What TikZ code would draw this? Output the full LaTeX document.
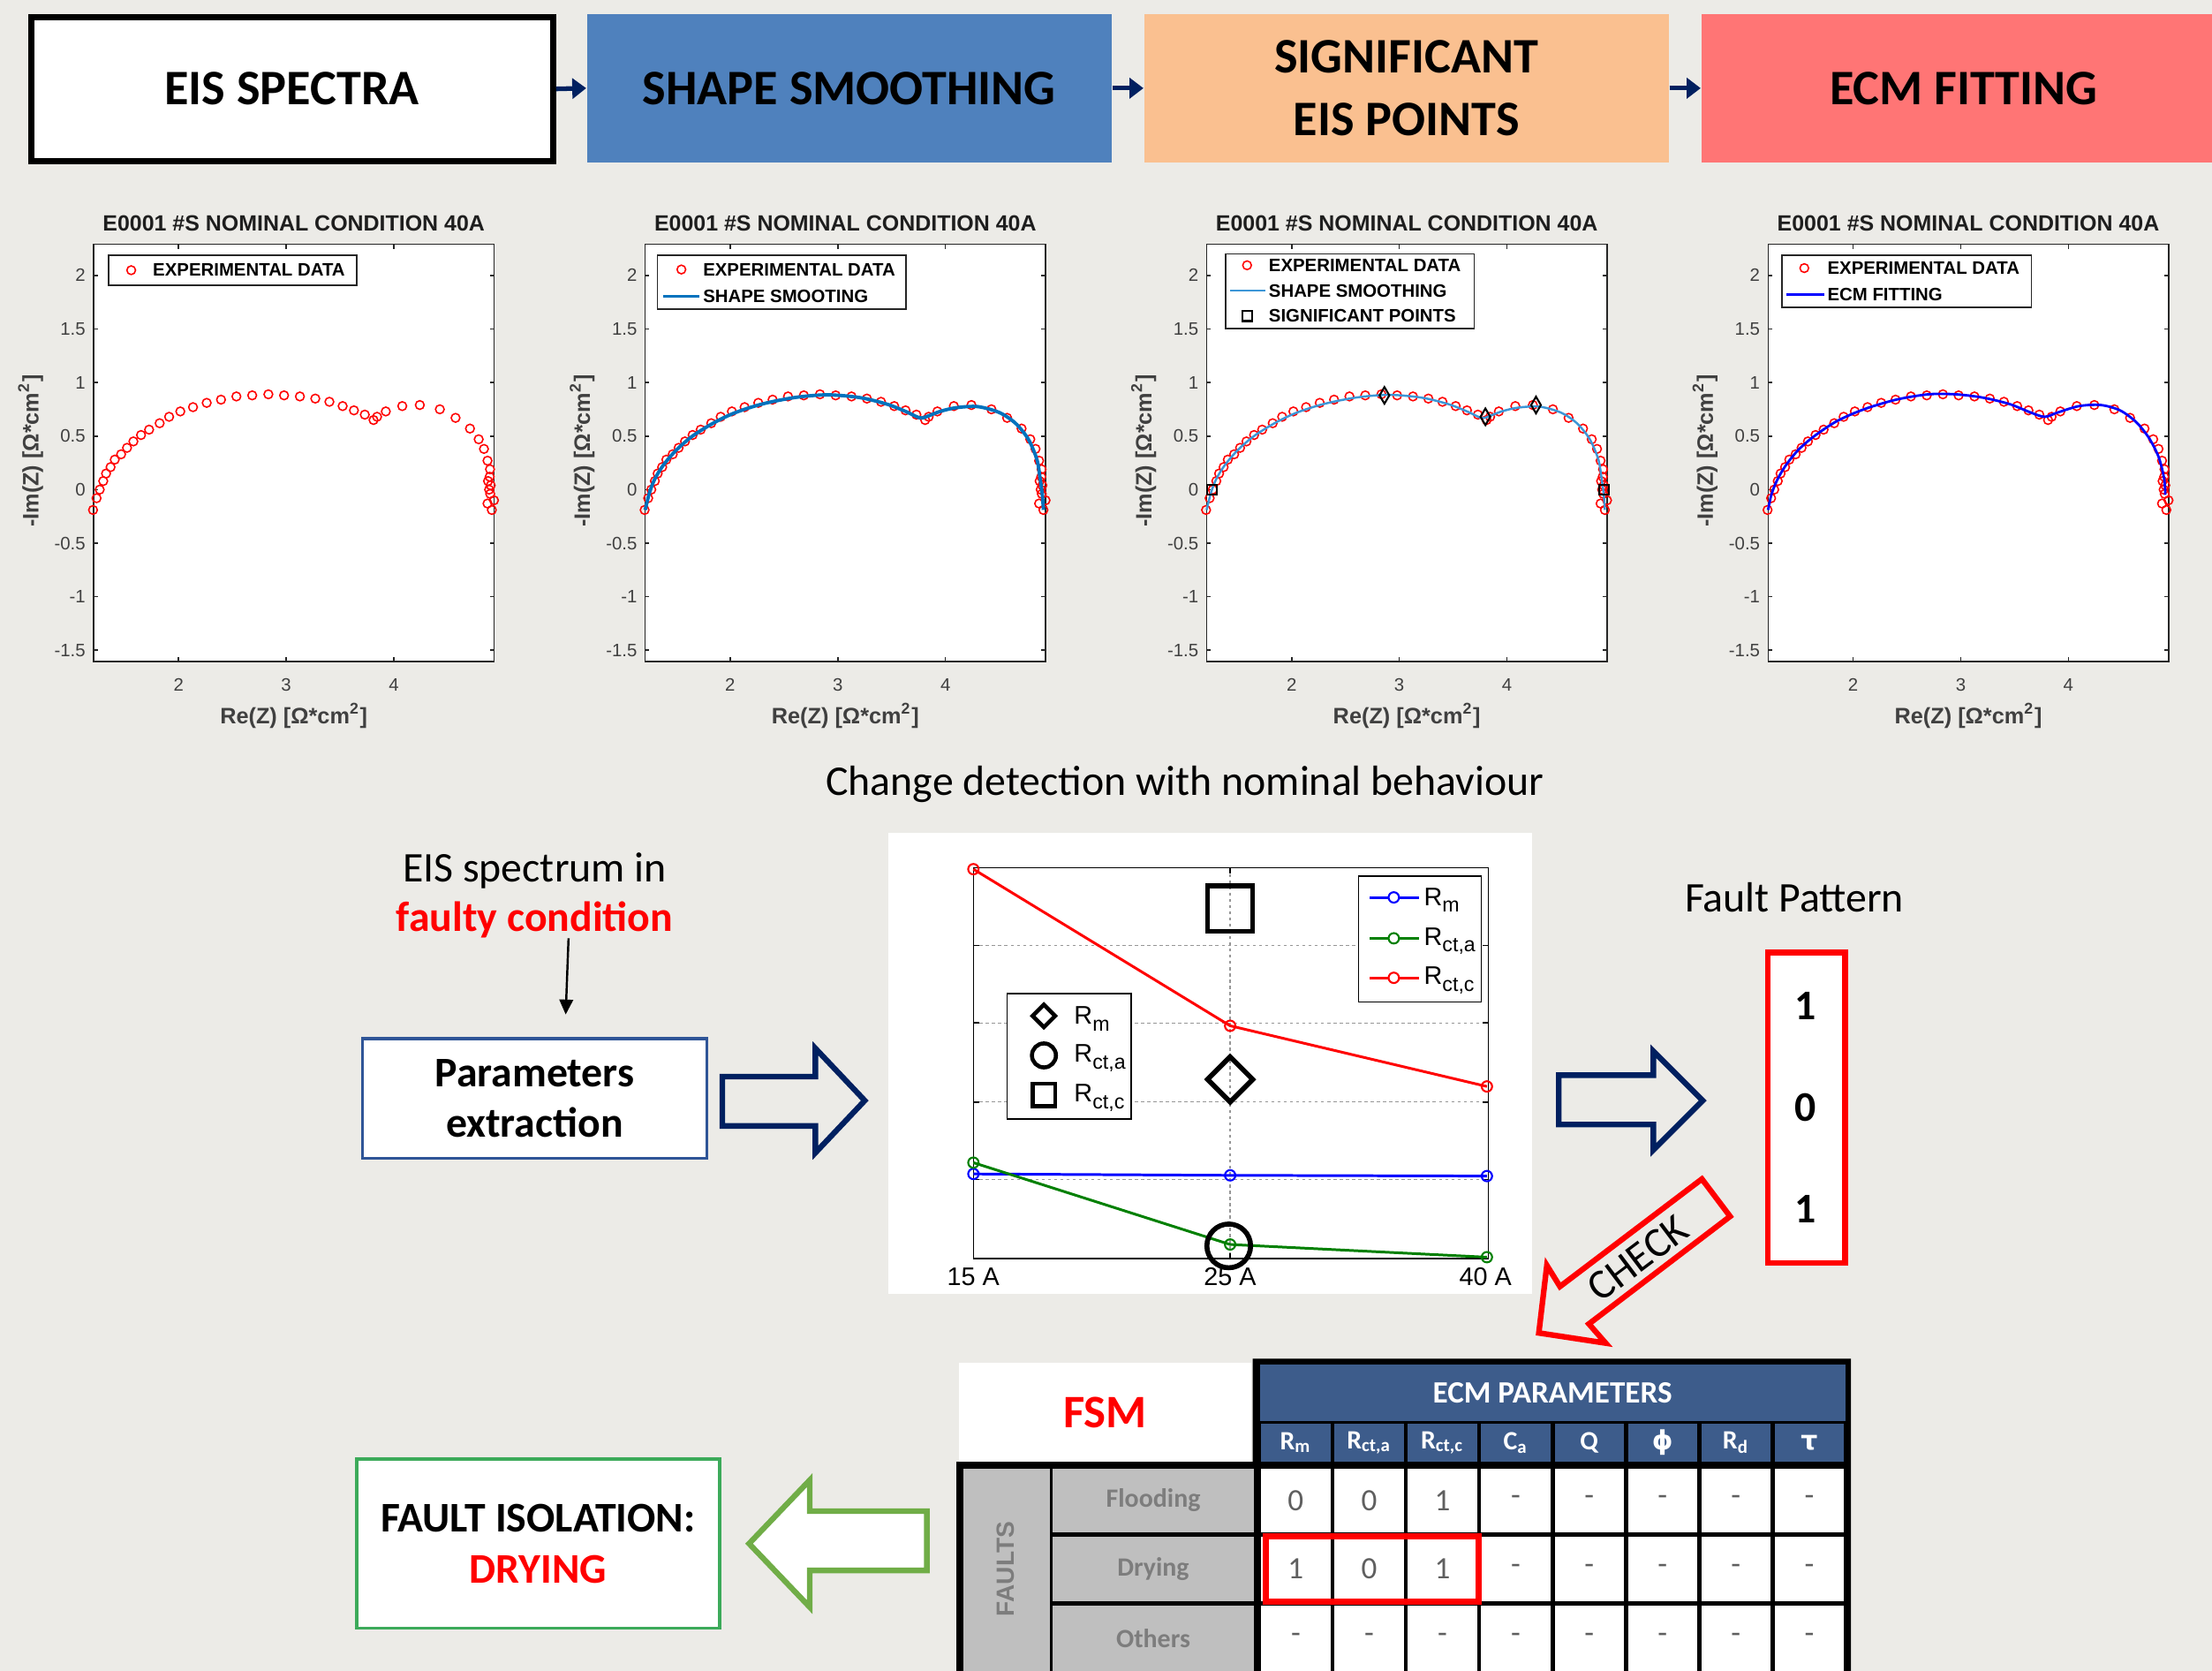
\documentclass[tikz,border=0pt]{standalone}
\usepackage{fontspec}
\setmainfont{Carlito}
\newfontfamily\plotfont{Liberation Sans}
\newfontfamily\greekfont{DejaVu Sans}
\usetikzlibrary{arrows.meta,shapes.geometric}

\definecolor{bgc}{RGB}{236,235,231}
\definecolor{navy}{RGB}{0,32,96}
\definecolor{smoothblue}{RGB}{79,129,189}
\definecolor{peach}{RGB}{250,192,144}
\definecolor{salmon}{RGB}{255,117,117}
\definecolor{mlblue}{RGB}{0,114,189}
\definecolor{lightline}{RGB}{60,150,215}
\definecolor{ticklab}{RGB}{64,64,64}
\definecolor{titlegray}{RGB}{30,30,30}
\definecolor{hdrblue}{RGB}{61,92,139}
\definecolor{cellgray}{RGB}{191,191,191}
\definecolor{txtgray}{RGB}{125,125,125}
\definecolor{numgray}{RGB}{95,95,95}
\definecolor{pebord}{RGB}{47,85,151}
\definecolor{fibord}{RGB}{60,170,90}
\definecolor{arrgreen}{RGB}{112,173,71}
\definecolor{gridgray}{RGB}{150,150,150}
\definecolor{mgreen}{RGB}{0,128,0}

% one drawing unit
\newlength\pu
\setlength\pu{0.0159758cm}

\newcommand\Rs[1]{R\textsubscript{#1}}
\newcommand\Rc[1]{R\raisebox{-0.5ex}{\fontsize{6.6}{7}\selectfont #1}}

% experimental impedance points (Re, -Im)
\def\expdata{1.205/-0.19,1.238/-0.08,1.267/0.0,1.300/0.08,1.326/0.15,1.368/0.21,1.407/0.28,1.466/0.33,1.521/0.39,1.580/0.45,1.651/0.51,1.726/0.56,1.824/0.62,1.912/0.68,2.016/0.73,2.134/0.77,2.261/0.81,2.394/0.84,2.537/0.87,2.684/0.88,2.834/0.89,2.980/0.88,3.127/0.87,3.270/0.85,3.401/0.82,3.524/0.78,3.629/0.74,3.730/0.70,3.811/0.65,3.844/0.68,3.925/0.73,4.078/0.78,4.241/0.79,4.427/0.75,4.573/0.67,4.707/0.57,4.788/0.47,4.837/0.38,4.870/0.27,4.893/0.19,4.89/0.12,4.875/0.08,4.90/0.04,4.885/0.0,4.895/-0.04,4.87/-0.13,4.93/-0.10,4.91/-0.19}

\tikzset{
  box/.style n args={4}{rectangle, inner sep=0pt,
    minimum width={((#3)-(#1))*\pu}, minimum height={((#4)-(#2))*\pu},
    at={({((#1)+(#3))/2},{((#2)+(#4))/2})}},
  stage/.style={inner sep=0pt, font=\fontsize{16}{20}\selectfont\bfseries, align=center},
  stagearrow/.style={draw=navy, line width=1.5pt, -{Triangle[length=4.5pt,width=6.5pt]}},
  axline/.style={line width=0.45pt, draw=black!85},
  ticklbl/.style={font=\plotfont\fontsize{5.8}{6}\selectfont, text=ticklab, inner sep=0pt},
  plottitle/.style={font=\plotfont\bfseries\fontsize{7.1}{8}\selectfont, text=titlegray, inner sep=0pt},
  axlbl/.style={font=\plotfont\bfseries\fontsize{7.2}{8}\selectfont, text=ticklab, inner sep=0pt},
  expmk/.style={circle, draw=red, line width=0.45pt, minimum size=2.8pt, inner sep=0pt},
  sigsq/.style={rectangle, draw=black, line width=0.6pt, minimum size=3.2pt, inner sep=0pt},
  sigdia/.style={diamond, draw=black, line width=0.6pt, minimum width=3.4pt, minimum height=5.6pt, inner sep=0pt},
  legbox/.style={draw=black!85, line width=0.5pt, fill=white},
  legtxt/.style={font=\plotfont\bfseries\fontsize{5.8}{6}\selectfont, inner sep=0pt, anchor=west},
  body/.style={font=\fontsize{13.6}{16.4}\selectfont, inner sep=0pt, align=center},
  bodybf/.style={font=\fontsize{13.6}{16.4}\selectfont\bfseries, inner sep=0pt, align=center},
  hollow/.style={line width=1.8pt, line join=miter},
  chartax/.style={line width=0.45pt, draw=black},
  gridl/.style={line width=0.4pt, draw=gridgray, dash pattern=on 1pt off 1pt},
  series/.style={line width=0.85pt},
  smk/.style={line width=0.6pt},
  bigmk/.style={line width=1.6pt, draw=black},
  charttxt/.style={font=\plotfont\fontsize{8.2}{9}\selectfont, inner sep=0pt},
  hdrcell/.style={fill=hdrblue, text=white, font=\fontsize{8.5}{9}\selectfont\bfseries},
  valcell/.style={fill=white, text=numgray, font=\fontsize{10}{11}\selectfont},
  namecell/.style={fill=cellgray, text=txtgray, font=\fontsize{8.5}{9}\selectfont\bfseries},
}

% frame, ticks, labels and measured points of one Nyquist panel; #1 = horizontal offset, #2 = name prefix
\newcommand\eisplot[2]{%
\begin{scope}[shift={(#1,347)}, xscale=76.3, yscale=-75.9]
  \fill[white] (1.21,-1.607) rectangle (4.93,2.29);
  \foreach \t in {2,3,4}{
    \draw[axline] (\t,-1.607) -- (\t,-1.567);
    \draw[axline] (\t,2.29) -- (\t,2.25);
    \node[ticklbl] (#2x\t) at (\t,-1.82) {\t};
  }
  \foreach \t [count=\k] in {2,1.5,1,0.5,0,-0.5,-1,-1.5}{
    \draw[axline] (1.21,\t) -- (1.25,\t);
    \draw[axline] (4.93,\t) -- (4.89,\t);
    \node[ticklbl, anchor=east] (#2y\k) at (1.14,\t) {\t};
  }
  \draw[axline] (1.21,-1.607) rectangle (4.93,2.29);
  \node[plottitle] (#2title) at (3.07,2.49) {E0001 \#S NOMINAL CONDITION 40A};
  \node[axlbl] (#2xlab) at (3.07,-2.11) {Re(Z) [Ω*cm\textsuperscript{2}]};
  \node[axlbl, rotate=90] (#2ylab) at (0.625,0.36) {-Im(Z) [Ω*cm\textsuperscript{2}]};
  \foreach \a/\b [count=\i] in \expdata { \node[expmk] (#2m\i) at (\a,\b) {}; }
\end{scope}}

\begin{document}
\begin{tikzpicture}[x=0.0159758cm, y=-0.0159758cm]
\useasboundingbox (0,0) rectangle (1568,1184);
\fill[bgc] (0,0) rectangle (1568,1184);

% ---------------- processing chain ----------------
\node[stage, box={22}{12}{392}{114}, draw=black, line width=2pt, fill=white] (eis) {EIS SPECTRA};
\node[stage, box={416}{10}{788}{115}, fill=smoothblue] (smooth) {SHAPE SMOOTHING};
\node[stage, box={811}{10}{1183}{115}, fill=peach] (sig) {SIGNIFICANT\\EIS POINTS};
\node[stage, box={1206}{10}{1578}{115}, fill=salmon] (ecm) {ECM FITTING};
\draw[stagearrow] (eis.east) -- (smooth.west);
\draw[stagearrow] (smooth.east) -- (sig.west);
\draw[stagearrow] (sig.east) -- (ecm.west);

% ---------------- Nyquist panels ----------------
\eisplot{-26}{pa}
\eisplot{365}{pb}
\eisplot{763}{pc}
\eisplot{1161}{pd}

% smoothed shape, panel 2
\begin{scope}[shift={(365,347)}, xscale=76.3, yscale=-75.9]
  \draw[mlblue, line width=1.1pt] plot[smooth, tension=0.5] coordinates {(1.21,-0.19) (1.25,-0.03) (1.30,0.10) (1.38,0.23) (1.50,0.37) (1.65,0.50) (1.85,0.625) (2.05,0.72) (2.3,0.80) (2.6,0.86) (2.9,0.885) (3.2,0.86) (3.45,0.80) (3.63,0.73) (3.76,0.67) (3.82,0.68) (3.95,0.73) (4.1,0.765) (4.3,0.775) (4.5,0.72) (4.65,0.62) (4.77,0.47) (4.85,0.28) (4.88,0.1) (4.9,-0.05) (4.91,-0.19)};
\end{scope}
% smoothed shape and significant points, panel 3
\begin{scope}[shift={(763,347)}, xscale=76.3, yscale=-75.9]
  \draw[lightline, line width=0.7pt] plot[smooth, tension=0.5] coordinates {(1.21,-0.19) (1.25,-0.03) (1.30,0.10) (1.38,0.23) (1.50,0.37) (1.65,0.50) (1.85,0.625) (2.05,0.72) (2.3,0.80) (2.6,0.86) (2.9,0.885) (3.2,0.86) (3.45,0.80) (3.63,0.73) (3.76,0.67) (3.82,0.68) (3.95,0.73) (4.1,0.765) (4.3,0.775) (4.5,0.72) (4.65,0.62) (4.77,0.47) (4.85,0.28) (4.88,0.1) (4.9,-0.05) (4.91,-0.19)};
  \node[sigsq] (sq1) at (1.258,0) {};
  \node[sigsq] (sq2) at (4.90,0) {};
  \node[sigdia] (dm1) at (2.862,0.88) {};
  \node[sigdia] (dm2) at (3.80,0.68) {};
  \node[sigdia] (dm3) at (4.27,0.79) {};
\end{scope}
% circuit model fit, panel 4
\begin{scope}[shift={(1161,347)}, xscale=76.3, yscale=-75.9]
  \draw[blue, line width=0.8pt] plot[smooth, tension=0.5] coordinates {(1.21,-0.19) (1.24,-0.05) (1.29,0.08) (1.37,0.22) (1.49,0.37) (1.64,0.50) (1.85,0.64) (2.1,0.75) (2.4,0.84) (2.7,0.89) (2.95,0.89) (3.2,0.86) (3.45,0.80) (3.65,0.72) (3.78,0.68) (3.9,0.72) (4.1,0.78) (4.3,0.79) (4.48,0.74) (4.63,0.63) (4.75,0.48) (4.84,0.30) (4.89,0.1) (4.9,-0.05)};
\end{scope}

% legends
\draw[legbox] (77,181) rectangle (253,202);
\node[expmk] (la1) at (93,191.5) {};
\node[legtxt] (lt1) at (108,191.5) {EXPERIMENTAL DATA};

\draw[legbox] (466,181) rectangle (642,219);
\node[expmk] (lb1) at (483,191) {};
\node[legtxt] (lt2) at (498,191) {EXPERIMENTAL DATA};
\draw[mlblue, line width=1.1pt] (470,210) -- (496,210);
\node[legtxt] (lt3) at (498,210) {SHAPE SMOOTING};

\draw[legbox] (869,180) rectangle (1045,233);
\node[expmk] (lc1) at (884,188) {};
\node[legtxt] (lt4) at (899,188) {EXPERIMENTAL DATA};
\draw[lightline, line width=0.7pt] (872,206) -- (897,206);
\node[legtxt] (lt5) at (899,206) {SHAPE SMOOTHING};
\node[sigsq] (lc3) at (884,224) {};
\node[legtxt] (lt6) at (899,224) {SIGNIFICANT POINTS};

\draw[legbox] (1263,181) rectangle (1440,218);
\node[expmk] (ld1) at (1279,190) {};
\node[legtxt] (lt7) at (1295,190) {EXPERIMENTAL DATA};
\draw[blue, line width=0.8pt] (1266,209) -- (1293,209);
\node[legtxt] (lt8) at (1295,209) {ECM FITTING};

% ---------------- change detection ----------------
\node[body] (cdtitle) at (840,556) {Change detection with nominal behaviour};

\node[body] (eisin) at (379,617) {EIS spectrum in};
\node[bodybf, text=red] (faulty) at (379,652) {faulty condition};
\coordinate (fa) at (403,665);
\coordinate (fb) at (401,719);
\draw[line width=0.7pt, -{Triangle[length=4.8pt,width=4.4pt]}] (fa) -- (fb);

\node[bodybf, box={257}{736}{501}{821}, draw=pebord, line width=1pt, fill=white] (pe) {Parameters\\extraction};

\draw[hollow, draw=navy] (512,763) -- (578,763) -- (578,743) -- (613,780) -- (578,817) -- (578,798) -- (512,798) -- cycle;

% parameter trend chart
\node[box={630}{590}{1086}{917}, fill=white] (chart) {};
\draw[gridl] (872,615) -- (872,892);
\foreach \gy in {670,725,781,836}{ \draw[gridl] (690,\gy) -- (1055,\gy); }
\draw[chartax] (690,615) rectangle (1055,892);
\foreach \gy in {670,725,781,836}{
  \draw[chartax] (690,\gy) -- (694,\gy);
  \draw[chartax] (1055,\gy) -- (1051,\gy);
}
\draw[chartax] (872,892) -- (872,888);
\draw[chartax] (872,615) -- (872,619);

\draw[series, blue] (690,832) -- (872,833) -- (1054,833.5);
\draw[series, mgreen] (690,824) -- (872,882) -- (1054,891);
\draw[series, red] (690,616) -- (872,727) -- (1054,770);
\foreach \px/\py in {690/832,872/833,1054/833.5}{ \draw[smk, blue] (\px,\py) circle[radius=3.7]; }
\foreach \px/\py in {690/824,872/882,1054/891}{ \draw[smk, mgreen] (\px,\py) circle[radius=3.7]; }
\foreach \px/\py in {690/616,872/727,1054/770}{ \draw[smk, red] (\px,\py) circle[radius=3.7]; }

\draw[bigmk] (856,628) rectangle (888,660);
\draw[bigmk] (872,749) -- (888,765) -- (872,781) -- (856,765) -- cycle;
\draw[bigmk] (871,883) circle[radius=15.5];

% series legend
\draw[chartax, fill=white] (963,621) rectangle (1050,710);
\draw[series, blue] (971,636) -- (1006,636);
\draw[smk, blue, fill=white] (988,636) circle[radius=3.7];
\node[charttxt, anchor=west] (lgm) at (1009,638) {\Rc{m}};
\draw[series, mgreen] (971,665) -- (1006,665);
\draw[smk, mgreen, fill=white] (988,665) circle[radius=3.7];
\node[charttxt, anchor=west] (lga) at (1009,667) {\Rc{ct,a}};
\draw[series, red] (971,693) -- (1006,693);
\draw[smk, red, fill=white] (988,693) circle[radius=3.7];
\node[charttxt, anchor=west] (lgc) at (1009,695) {\Rc{ct,c}};

% symbol legend
\draw[chartax, fill=white] (714,704) rectangle (802,793);
\draw[line width=1.3pt] (740,712) -- (748,720) -- (740,728) -- (732,720) -- cycle;
\node[charttxt, anchor=west] (sgm) at (761,722) {\Rc{m}};
\draw[line width=1.3pt] (740,748) circle[radius=8.5];
\node[charttxt, anchor=west] (sga) at (761,750) {\Rc{ct,a}};
\draw[line width=1.3pt] (732,768) rectangle (748,784);
\node[charttxt, anchor=west] (sgc) at (761,778) {\Rc{ct,c}};

\node[charttxt] (i15) at (690,905) {15 A};
\node[charttxt] (i25) at (872,905) {25 A};
\node[charttxt] (i40) at (1053,905) {40 A};

% ---------------- fault pattern ----------------
\draw[hollow, draw=navy] (1105,762) -- (1172,762) -- (1172,745) -- (1207,780) -- (1172,815) -- (1172,797) -- (1105,797) -- cycle;
\node[body] (fptitle) at (1272,636) {Fault Pattern};
\node[box={1253}{675}{1308}{895}, draw=red, line width=1.8pt, fill=white] (fp) {};
\node[bodybf] (fp1) at (1280,713) {1};
\node[bodybf] (fp2) at (1280,785) {0};
\node[bodybf] (fp3) at (1280,857) {1};

\draw[hollow, draw=red] (1206.4,835.6) -- (1226.4,862.1) -- (1126.3,938.3) -- (1138.2,951.9) -- (1090.8,944.7) -- (1096.5,896.8) -- (1105.8,911.8) -- cycle;
\node[body, rotate=37] (check) at (1161,892) {CHECK};

% ---------------- fault signature matrix ----------------
\fill[black] (888,963) -- (1312,963) -- (1312,1187) -- (678,1187) -- (678,1036) -- (888,1036) -- cycle;
\node[box={680}{966}{887}{1036}, fill=white, text=red, font=\fontsize{15}{16}\selectfont\bfseries] (fsm) {FSM};
\node[box={893}{967}{1308}{1007}, fill=hdrblue, text=white, font=\fontsize{10}{11}\selectfont\bfseries] (hdr) {ECM PARAMETERS};
\foreach \lab [count=\c] in {\Rs{m},\Rs{ct,a},\Rs{ct,c},C\textsubscript{a},Q,{\greekfont ϕ},\Rs{d},{\greekfont τ}}{
  \node[hdrcell, box={842+52*\c}{1009}{891+52*\c}{1036}] (h\c) {\lab};
}
\node[box={683}{1041}{744}{1184}, fill=cellgray] (faults) {};
\node[rotate=90, text=txtgray, font=\plotfont\bfseries\fontsize{8}{9}\selectfont, inner sep=0pt] (faultslbl) at (713,1112) {FAULTS};
\node[namecell, box={746}{1041}{889}{1086}] (nflood) {Flooding};
\node[namecell, box={746}{1089}{889}{1135}] (ndry) {Drying};
\node[namecell, box={746}{1138}{889}{1184}] (noth) {Others};
\foreach \v [count=\c] in {0,0,1,-,-,-,-,-}{
  \node[valcell, box={842+52*\c}{1041}{891+52*\c}{1086}] (ra\c) {\v};
}
\foreach \v [count=\c] in {1,0,1,-,-,-,-,-}{
  \node[valcell, box={842+52*\c}{1089}{891+52*\c}{1135}] (rb\c) {\v};
}
\foreach \v [count=\c] in {-,-,-,-,-,-,-,-}{
  \node[valcell, box={842+52*\c}{1138}{891+52*\c}{1184}] (rc\c) {\v};
}
\draw[red, line width=2pt] (897,1089) rectangle (1048,1135);

% ---------------- isolation result ----------------
\draw[hollow, draw=arrgreen, fill=white] (657,1071) -- (574,1071) -- (574,1049) -- (531,1094) -- (574,1139) -- (574,1113) -- (657,1113) -- cycle;
\node[bodybf, box={253}{1034}{510}{1154}, draw=fibord, line width=1pt, fill=white] (iso) {FAULT ISOLATION:\\\textcolor{red}{DRYING}};
\end{tikzpicture}
\end{document}
